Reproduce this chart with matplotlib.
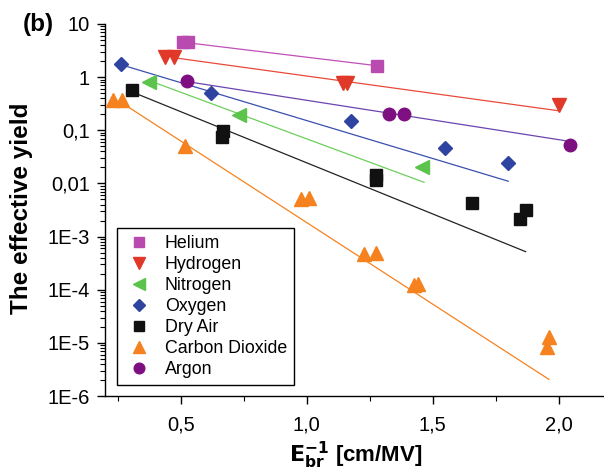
import numpy as np
import matplotlib.pyplot as plt
from matplotlib.ticker import FixedLocator, FixedFormatter, LogLocator, MultipleLocator, NullFormatter

plt.rcParams['font.family'] = ['Liberation Sans', 'DejaVu Sans']

# data points
he_x = [0.51, 0.53, 1.28]
he_y = [4.5, 4.5, 1.64]
h2_x = [0.437, 0.472, 1.145, 1.16, 2.0]
h2_y = [2.36, 2.36, 0.77, 0.77, 0.30]
n2_x = [0.373, 0.73, 1.458]
n2_y = [0.82, 0.194, 0.0206]
o2_x = [0.262, 0.619, 1.177, 1.549, 1.80]
o2_y = [1.74, 0.496, 0.149, 0.047, 0.0245]
air_x = [0.305, 0.666, 0.664, 1.276, 1.276, 1.657, 1.869, 1.845]
air_y = [0.57, 0.098, 0.076, 0.0144, 0.0115, 0.0042, 0.0031, 0.0021]
co2_x = [0.23, 0.266, 0.516, 0.978, 1.01, 1.228, 1.277, 1.424, 1.442, 1.961, 1.952]
co2_y = [0.37, 0.37, 0.050, 0.0052, 0.0054, 4.7e-4, 5.0e-4, 1.22e-4, 1.28e-4, 1.3e-5, 8.4e-6]
ar_x = [0.525, 1.327, 1.387, 2.044]
ar_y = [0.845, 0.202, 0.202, 0.052]

# fit lines (end points)
he_fx, he_fy = [0.55, 1.27], [4.3, 1.66]
h2_fx, h2_fy = [0.49, 2.0], [2.26, 0.233]
n2_fx, n2_fy = [0.39, 1.466], [0.81, 0.0105]
o2_fx, o2_fy = [0.29, 1.80], [1.57, 0.011]
air_fx, air_fy = [0.31, 1.869], [0.52, 5.2e-4]
co2_fx, co2_fy = [0.27, 1.961], [0.32, 2.06e-6]
ar_fx, ar_fy = [0.535, 2.033], [0.81, 0.063]

series = [
    ("Helium", he_x, he_y, he_fx, he_fy, "s", "#b94ab0", "#c050b8", 8.5),
    ("Hydrogen", h2_x, h2_y, h2_fx, h2_fy, "v", "#e0392a", "#e84a3a", 10),
    ("Nitrogen", n2_x, n2_y, n2_fx, n2_fy, "<", "#5cc34c", "#6ccf5a", 10),
    ("Oxygen", o2_x, o2_y, o2_fx, o2_fy, "D", "#2f43a0", "#3a50b0", 7.5),
    ("Dry Air", air_x, air_y, air_fx, air_fy, "s", "#111111", "#222222", 8),
    ("Carbon Dioxide", co2_x, co2_y, co2_fx, co2_fy, "^", "#f5821f", "#f5821f", 10),
    ("Argon", ar_x, ar_y, ar_fx, ar_fy, "o", "#7e0f80", "#6a45b0", 9),
]

fig = plt.figure(figsize=(6.04, 4.75), dpi=100)
ax = fig.add_axes([0.174, 0.1663, 0.826, 0.7832])

for name, x, y, fx, fy, m, c, lc, ms in series:
    ax.plot(fx, fy, color=lc, lw=0.9, zorder=2)
    ax.plot(x, y, ls="none", marker=m, color=c, ms=ms, mec=c, label=name, zorder=3)

ax.set_yscale("log")
ax.set_xlim(0.2, 2.18)
ax.set_ylim(1e-6, 10)

yt = [1e-6, 1e-5, 1e-4, 1e-3, 1e-2, 1e-1, 1, 10]
ax.yaxis.set_major_locator(FixedLocator(yt))
ax.yaxis.set_major_formatter(FixedFormatter(["1E-6", "1E-5", "1E-4", "1E-3", "0,01", "0,1", "1", "10"]))
ax.yaxis.set_minor_locator(LogLocator(base=10, subs=np.arange(2, 10), numticks=20))
ax.yaxis.set_minor_formatter(NullFormatter())

ax.xaxis.set_major_locator(FixedLocator([0.5, 1.0, 1.5, 2.0]))
ax.xaxis.set_major_formatter(FixedFormatter(["0,5", "1,0", "1,5", "2,0"]))
ax.xaxis.set_minor_locator(MultipleLocator(0.25))

ax.tick_params(which="major", direction="out", length=6, width=1, labelsize=14.5, pad=5)
ax.tick_params(which="minor", direction="out", length=3.5, width=0.8)
ax.tick_params(axis="x", which="major", pad=8)

ax.spines["top"].set_visible(False)
ax.spines["right"].set_visible(False)
ax.spines["left"].set_linewidth(1)
ax.spines["bottom"].set_linewidth(1)

ax.set_ylabel("The effective yield", fontsize=17.5, fontweight="bold")
ax.yaxis.set_label_coords(-0.144, 0.505)
ax.set_xlabel(r"$\mathbf{E_{br}^{-1}}$ [cm/MV]", fontsize=16, fontweight="bold")
ax.xaxis.set_label_coords(0.503, -0.118)
fig.text(0.037, 0.948, "(b)", fontsize=17.5, fontweight="bold", va="center")

leg = ax.legend(loc="lower left", bbox_to_anchor=(0.0234, 0.0296), borderaxespad=0,
                fontsize=12.8, numpoints=1, handlelength=1.7, handletextpad=0.6,
                labelspacing=0.22, fancybox=False, edgecolor="black", framealpha=1,
                borderpad=0.4, markerscale=0.85)
leg.get_frame().set_linewidth(1)

fig.savefig("out.png", dpi=100)
